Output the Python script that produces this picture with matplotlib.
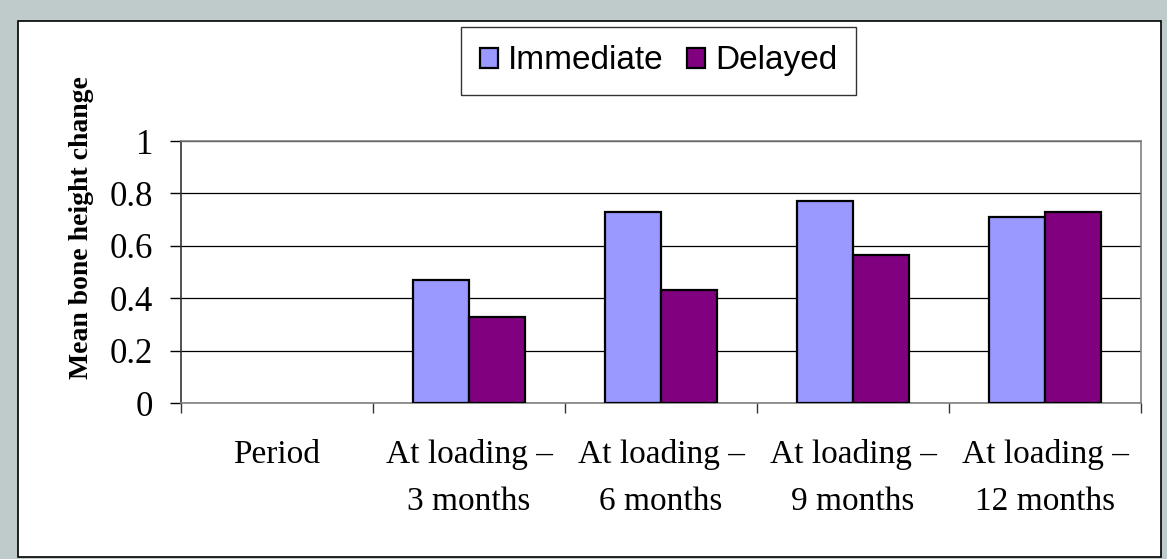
import numpy as np
import matplotlib
matplotlib.use("Agg")
import matplotlib.pyplot as plt
from matplotlib.patches import Rectangle

categories = ["Period", "At loading –\n3 months", "At loading –\n6 months",
              "At loading –\n9 months", "At loading –\n12 months"]
immediate = [np.nan, 0.47, 0.73, 0.77, 0.71]
delayed = [np.nan, 0.33, 0.43, 0.565, 0.73]
series_names = ["Immediate", "Delayed"]
yticks = [0, 0.2, 0.4, 0.6, 0.8, 1]
ytick_labels = ["0", "0.2", "0.4", "0.6", "0.8", "1"]

W, H = 1167, 559
fig = plt.figure(figsize=(W / 100, H / 100), dpi=100)
fig.patch.set_facecolor("#BFCBCB")

# white chart area with thin black border
fig.patches.append(Rectangle((18 / W, 1 - 557 / H), (1161 - 18) / W, (557 - 21) / H,
                             transform=fig.transFigure, facecolor="white",
                             edgecolor="black", linewidth=1.2, zorder=-5))

ax = fig.add_axes([181 / W, 1 - 403 / H, 960 / W, 262 / H])
ax.set_zorder(2)
ax.set_facecolor("white")

x = np.arange(len(categories))
w = 0.29
ax.bar(x - w / 2, immediate, w, color="#9999FF", edgecolor="black",
       linewidth=1.6, label=series_names[0], zorder=3)
ax.bar(x + w / 2, delayed, w, color="#800080", edgecolor="black",
       linewidth=1.6, label=series_names[1], zorder=3)

ax.set_xlim(-0.5, len(categories) - 0.5)
ax.set_ylim(0, 1)
ax.set_yticks(yticks)
ax.set_yticklabels(ytick_labels)
ax.yaxis.grid(True, color="black", linewidth=0.9, zorder=1)
ax.set_axisbelow(True)

serif = "Liberation Serif"
ax.set_xticks(x)
ax.set_xticklabels(categories, fontfamily=serif, fontsize=24, linespacing=1.7)
ax.set_xticks(np.arange(-0.5, len(categories)), minor=True)
ax.tick_params(axis="x", which="major", length=0, pad=26)
ax.tick_params(axis="x", which="minor", length=7.5, width=1, color="#333333", direction="out")
ax.tick_params(axis="y", length=8, width=1, direction="out", pad=12)
for lab in ax.get_yticklabels():
    lab.set_fontfamily(serif)
    lab.set_fontsize(25)

ax.spines["left"].set_color("#333333")
ax.spines["left"].set_linewidth(1.2)
for side in ("bottom", "right", "top"):
    ax.spines[side].set_color("#808080")
    ax.spines[side].set_linewidth(1.2)

ax.set_ylabel("Mean bone height change", fontfamily=serif, fontweight="bold",
              fontsize=20)
ax.yaxis.set_label_coords(-87 / 960, 0.668)

leg = fig.legend(loc="upper center", bbox_to_anchor=(658.7 / W, 1 - 27 / H),
                 ncol=2, frameon=True, fancybox=False, edgecolor="black",
                 prop={"family": "Liberation Sans", "size": 24},
                 handlelength=0.55, handleheight=0.55, handletextpad=0.3,
                 columnspacing=0.7, borderpad=0.55, borderaxespad=0)
leg.get_frame().set_linewidth(1.0)
leg.set_zorder(5)

fig.savefig("out.png", dpi=100, facecolor=fig.get_facecolor())
